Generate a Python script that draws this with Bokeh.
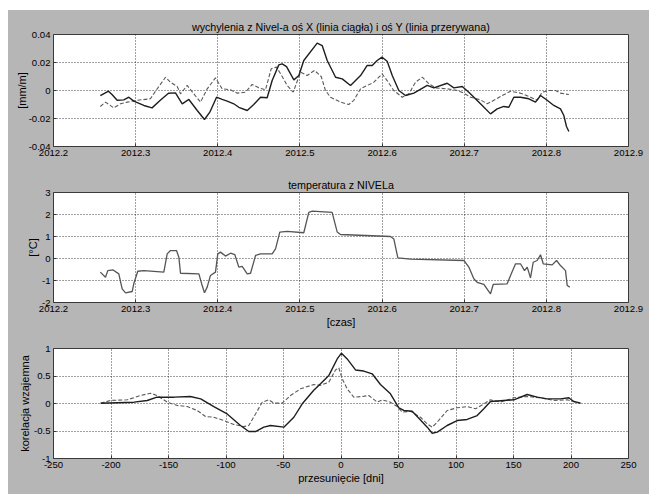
import numpy as np
from bokeh.plotting import figure
from bokeh.layouts import column
from bokeh.models import FixedTicker, CustomJSTickFormatter, Range1d
from bokeh.embed import file_html
from bokeh.resources import INLINE

# ---------------- data ----------------
# panel 1: tilt X (solid) and Y (dashed) [mm/m]
tx = [2012.257, 2012.267, 2012.2715, 2012.2775, 2012.2856, 2012.2917, 2012.2977, 2012.310, 2012.320,
      2012.330, 2012.340, 2012.3485, 2012.3567, 2012.3648, 2012.375, 2012.3838, 2012.3903, 2012.3985,
      2012.4053, 2012.4114, 2012.4195, 2012.4256, 2012.4358, 2012.4438, 2012.452, 2012.4601, 2012.4662,
      2012.4743, 2012.4784, 2012.4837, 2012.4926, 2012.4987, 2012.5047, 2012.521, 2012.5271, 2012.5332,
      2012.5434, 2012.5515, 2012.5616, 2012.5738, 2012.5819, 2012.588, 2012.594, 2012.600, 2012.6062,
      2012.6124, 2012.6204, 2012.6285, 2012.6387, 2012.655, 2012.663, 2012.6793, 2012.6874, 2012.6976,
      2012.7056, 2012.7198, 2012.732, 2012.7401, 2012.7482, 2012.7543, 2012.7604, 2012.7685, 2012.7787,
      2012.7868, 2012.7929, 2012.801, 2012.8091, 2012.8172, 2012.8213, 2012.8245, 2012.8274]
x_tilt = [-0.0036, -0.0005, -0.003, -0.007, -0.0067, -0.0048, -0.0076, -0.0107, -0.0124,
          -0.007, -0.002, -0.0017, -0.0095, -0.0064, -0.0143, -0.0207, -0.0155, -0.0048,
          -0.0064, -0.0076, -0.0095, -0.012, -0.0143, -0.010, -0.0048, -0.0052, 0.0071,
          0.0183, 0.019, 0.0171, 0.0076, 0.0107, 0.0214, 0.0338, 0.0321, 0.0214,
          0.0095, 0.0083, 0.0036, 0.0107, 0.0179, 0.0179, 0.0214, 0.0238, 0.0209,
          0.0107, 0.0, -0.0036, -0.0019, 0.0036, 0.0019, 0.0052, 0.0019, 0.0029,
          -0.0012, -0.0095, -0.0167, -0.0131, -0.0114, -0.012, -0.0048, -0.0048, -0.0059,
          -0.0083, -0.0036, -0.007, -0.0107, -0.0131, -0.0179, -0.0257, -0.0293]

ty = [2012.257, 2012.2633, 2012.2734, 2012.2815, 2012.2897, 2012.3019, 2012.318, 2012.3262, 2012.3364,
      2012.3424, 2012.3506, 2012.3546, 2012.3627, 2012.3708, 2012.379, 2012.3871, 2012.3972, 2012.4053,
      2012.4155, 2012.4236, 2012.4337, 2012.4418, 2012.4499, 2012.4581, 2012.465, 2012.4715, 2012.4784,
      2012.4845, 2012.4918, 2012.5007, 2012.5088, 2012.5177, 2012.5259, 2012.5311, 2012.5372, 2012.5494,
      2012.5595, 2012.5656, 2012.5738, 2012.5819, 2012.590, 2012.600, 2012.6062, 2012.6143, 2012.6245,
      2012.6326, 2012.6407, 2012.6489, 2012.657, 2012.6651, 2012.6793, 2012.6915, 2012.6996, 2012.7077,
      2012.7198, 2012.728, 2012.7361, 2012.7462, 2012.7564, 2012.7685, 2012.7807, 2012.7888, 2012.7949,
      2012.803, 2012.8111, 2012.8172, 2012.8274]
y_tilt = [-0.0114, -0.0083, -0.0124, -0.0095, -0.0083, -0.007, -0.0059, 0.0012, 0.0095,
          0.0059, 0.0029, -0.0024, 0.0036, -0.0024, -0.0083, 0.0012, 0.009, 0.0012,
          0.0005, -0.0019, -0.0012, 0.0043, 0.0019, 0.0005, 0.0155, 0.0167, 0.010,
          0.0036, -0.0012, 0.0131, 0.0107, 0.0143, 0.0100, 0.0, -0.0048, -0.0083,
          -0.010, -0.007, 0.0012, 0.0036, 0.0059, 0.0119, 0.0071, 0.0, -0.0048,
          -0.0024, 0.0059, 0.0095, 0.0048, 0.0019, 0.0012, 0.0, -0.0019, -0.0048,
          -0.0067, -0.0095, -0.007, -0.0036, -0.0005, -0.0019, -0.0048, -0.007, -0.0012,
          0.0, 0.0, -0.0019, -0.0029]

# panel 2: temperature [deg C]
tt = [2012.257, 2012.2633, 2012.2661, 2012.2726, 2012.2795, 2012.2836, 2012.2877, 2012.2958, 2012.2977,
      2012.3026, 2012.310, 2012.3343, 2012.3384, 2012.3424, 2012.3497, 2012.3526, 2012.3546, 2012.377,
      2012.381, 2012.3838, 2012.3871, 2012.3911, 2012.3972, 2012.400, 2012.4033, 2012.4094, 2012.4155,
      2012.4207, 2012.4256, 2012.4297, 2012.4358, 2012.4399, 2012.446, 2012.452, 2012.4662, 2012.4703,
      2012.4755, 2012.4845, 2012.5047, 2012.5108, 2012.515, 2012.5392, 2012.5454, 2012.5494, 2012.6103,
      2012.6143, 2012.6192, 2012.6346, 2012.6996, 2012.7056, 2012.7117, 2012.7158, 2012.7239, 2012.732,
      2012.7353, 2012.7523, 2012.7564, 2012.7625, 2012.7685, 2012.7734, 2012.7767, 2012.7807, 2012.784,
      2012.7888, 2012.7929, 2012.7962, 2012.8071, 2012.8124, 2012.8172, 2012.8233, 2012.8254, 2012.8286]
temp = [-0.62, -0.85, -0.55, -0.52, -0.70, -1.38, -1.56, -1.50, -1.15,
        -0.58, -0.55, -0.62, 0.21, 0.36, 0.36, 0.06, -0.67, -0.70,
        -1.23, -1.56, -1.30, -0.77, -0.62, 0.21, 0.29, 0.11, 0.24,
        0.18, -0.39, -0.36, -0.70, -0.67, 0.14, 0.21, 0.21, 0.44,
        1.20, 1.23, 1.17, 2.10, 2.15, 2.10, 1.20, 1.09, 1.00,
        0.89, 0.03, -0.03, -0.09, -0.39, -0.92, -1.08, -1.18, -1.61,
        -1.18, -1.15, -0.77, -0.24, -0.24, -0.55, -0.39, -0.88, -0.17,
        -0.09, 0.17, -0.24, -0.29, -0.09, -0.32, -0.55, -1.23, -1.30]

# panel 3: cross-correlation vs lag [days]
lag_x = [-209, -180, -168.5, -160, -145, -131, -122, -110.6, -99, -87.4, -80.2, -74.3, -67.1, -61.3,
         -49.7, -41, -33.7, -23.7, -17.8, -10.6, -9.1, -3.3, 0.4, 5.4, 12.6, 19.8, 27.1, 34.3, 43,
         50.3, 54.6, 61.9, 69.1, 75, 79.3, 83.7, 92.3, 101, 109.7, 118.4, 124.2, 130, 141.6, 150.3,
         161.9, 170.6, 179.3, 190.9, 198.1, 202.4, 208.3]
corr_x = [0.005, 0.024, 0.055, 0.115, 0.115, 0.127, 0.085, -0.055, -0.19, -0.40, -0.51, -0.51, -0.43, -0.40,
          -0.43, -0.25, -0.005, 0.24, 0.36, 0.51, 0.57, 0.81, 0.915, 0.81, 0.61, 0.59, 0.54, 0.345, 0.176,
          -0.078, -0.127, -0.14, -0.30, -0.43, -0.54, -0.52, -0.40, -0.31, -0.29, -0.22, -0.097, 0.036, 0.055, 0.067,
          0.164, 0.115, 0.085, 0.085, 0.104, 0.036, 0.006]

lag_y = [-209, -200.4, -185.9, -174.3, -165.7, -159.8, -151.1, -142.4, -133.7, -125, -117.8, -110.6,
         -101.9, -93.2, -84.5, -80.2, -74.3, -68.5, -62.8, -58.4, -51.1, -43.9, -35.2, -23.7, -17.8,
         -10.6, -4.8, -1.9, 1, 5.4, 11.1, 18.4, 24.2, 31.5, 35.8, 43, 48.9, 53.2, 60.4, 69.1, 75,
         79.3, 83.7, 92.3, 101, 109.7, 117, 124.2, 130, 138.7, 150.3, 161.9, 173.5, 185, 196.7, 208.3]
corr_y = [0.005, 0.055, 0.067, 0.145, 0.187, 0.145, 0.024, -0.036, -0.055, -0.127, -0.236, -0.25,
          -0.31, -0.38, -0.42, -0.40, -0.19, 0.024, 0.067, 0.006, 0.006, 0.145, 0.267, 0.345, 0.33,
          0.387, 0.61, 0.65, 0.45, 0.267, 0.115, 0.127, 0.145, 0.024, 0.067, 0.024, -0.055, -0.158, -0.14,
          -0.25, -0.37, -0.43, -0.34, -0.127, -0.078, -0.055, -0.097, -0.006, 0.067, 0.024, 0.104, 0.127,
          0.104, 0.055, 0.067, 0.006]

year_ticks = [2012.2, 2012.3, 2012.4, 2012.5, 2012.6, 2012.7, 2012.8, 2012.9]
tilt_ticks = [-0.04, -0.02, 0, 0.02, 0.04]
temp_ticks = [-2, -1, 0, 1, 2, 3]
lag_ticks = [-250, -200, -150, -100, -50, 0, 50, 100, 150, 200, 250]
corr_ticks = [-1, -0.5, 0, 0.5, 1]

title1 = "wychylenia z Nivel-a oś X (linia ciągła) i oś Y (linia przerywana)"
title2 = "temperatura z NIVELa"

# ---------------- styling ----------------
GREY = "#b6b6b6"
FONT = "Liberation Sans"
W = 641

fmt_code = "return String(Math.round(tick*1000)/1000);"


def make_fig(height, top, bottom, xr, yr, xt, yt, title=None):
    p = figure(width=W, height=height, output_backend="svg", toolbar_location=None,
               x_range=Range1d(*xr), y_range=Range1d(*yr),
               min_border_left=45, min_border_right=21,
               min_border_top=top, min_border_bottom=bottom,
               title=title)
    p.border_fill_color = GREY
    p.background_fill_color = "white"
    p.outline_line_color = "#3a3a3a"
    p.outline_line_width = 1
    if title:
        p.title.text_font = FONT
        p.title.text_font_size = "10.7px"
        p.title.text_font_style = "normal"
        p.title.align = "center"
        p.title.text_color = "black"
        p.title.standoff = 3
    for ax, ticks in ((p.xaxis[0], xt), (p.yaxis[0], yt)):
        ax.ticker = FixedTicker(ticks=ticks, minor_ticks=[])
        ax.formatter = CustomJSTickFormatter(code=fmt_code)
        ax.major_tick_in = 3
        ax.major_tick_out = 0
        ax.minor_tick_line_color = None
        ax.axis_line_color = None
        ax.major_tick_line_color = "#3a3a3a"
        ax.major_label_text_font = FONT
        ax.major_label_text_font_size = "9.6px"
        ax.major_label_text_color = "black"
        ax.major_label_standoff = 3
        ax.axis_label_text_font = FONT
        ax.axis_label_text_font_size = "11px"
        ax.axis_label_text_font_style = "normal"
        ax.axis_label_text_color = "black"
    for g in (p.xgrid[0], p.ygrid[0]):
        g.grid_line_color = "black"
        g.grid_line_alpha = 0.75
        g.grid_line_dash = "1 2"
        g.grid_line_width = 1
    return p


xr_years = (2012.2, 2012.9)

p1 = make_fig(155, 24, 19, xr_years, (-0.04, 0.04), year_ticks, tilt_ticks, title1)
p1.yaxis[0].axis_label = "[mm/m]"
p1.yaxis[0].axis_label_standoff = -2
p1.line(ty, y_tilt, line_color="#5a5a5a", line_width=1.1, line_dash="4 2")
p1.line(tx, x_tilt, line_color="#1e1e1e", line_width=1.4)

p2 = make_fig(165, 27, 28, xr_years, (-2, 3), year_ticks, temp_ticks, title2)
p2.yaxis[0].axis_label = "[°C]"
p2.yaxis[0].axis_label_standoff = 0
p2.xaxis[0].axis_label = "[czas]"
p2.xaxis[0].axis_label_standoff = 1
p2.line(tt, temp, line_color="#555555", line_width=1.3)

p3 = make_fig(164, 18, 36, (-250, 250), (-1, 1), lag_ticks, corr_ticks)
p3.yaxis[0].axis_label = "korelacja wzajemna"
p3.yaxis[0].axis_label_standoff = 0
p3.xaxis[0].axis_label = "przesunięcie [dni]"
p3.xaxis[0].axis_label_standoff = 1
p3.line(lag_y, corr_y, line_color="#5a5a5a", line_width=1.1, line_dash="4 2")
p3.line(lag_x, corr_x, line_color="#1e1e1e", line_width=1.4)

layout = column(p1, p2, p3, spacing=0, margin=(10, 0, 0, 8),
                styles={"background-color": GREY})

open("out.html", "w").write(file_html(layout, INLINE))
